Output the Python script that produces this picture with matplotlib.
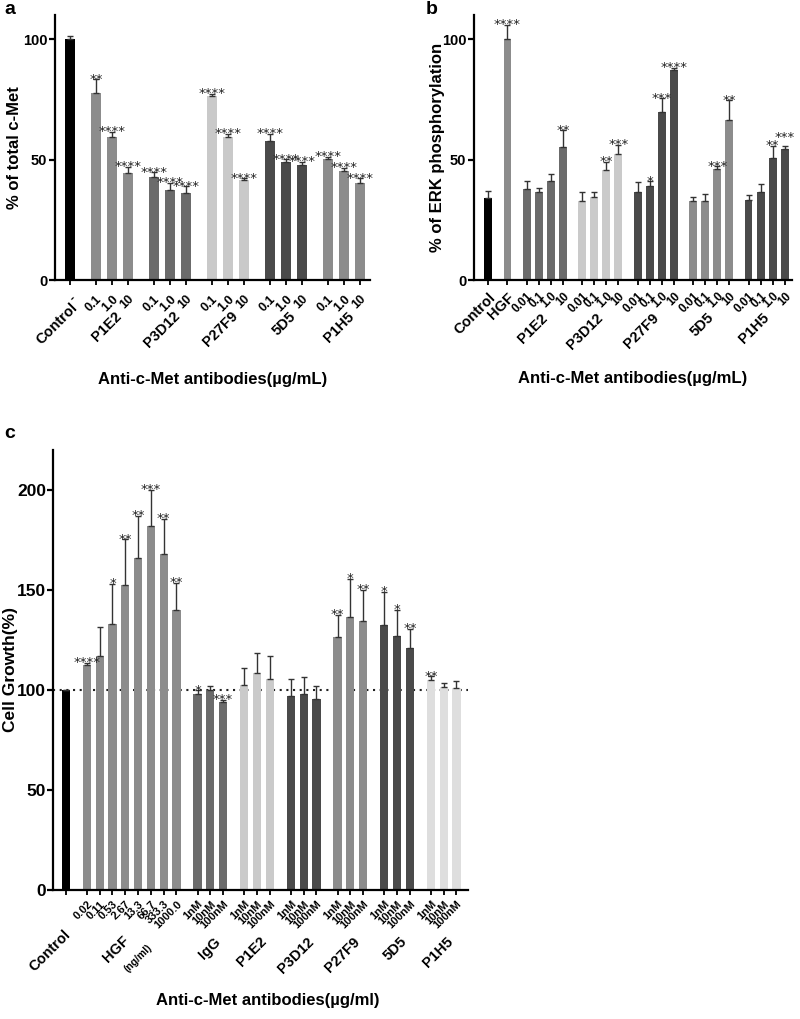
import numpy as np
import matplotlib.pyplot as plt

plt.rcParams['font.family'] = ['Liberation Sans', 'DejaVu Sans']
plt.rcParams['font.weight'] = 'bold'

# ---- panel a : total c-Met ----
a_sizes = [1, 3, 3, 3, 3, 3]
a_groups = ['Control', 'P1E2', 'P3D12', 'P27F9', '5D5', 'P1H5']
a_ticks = ['-'] + ['0.1', '1.0', '10'] * 5
a_vals = [100, 77.6, 59.5, 44.6, 42.7, 37.5, 36.3, 76.2, 59.2, 41.6,
          57.7, 49.1, 47.6, 50.2, 45.3, 40.1]
a_err = [1.2, 5.8, 2.0, 2.3, 2.1, 2.8, 2.6, 1.0, 1.4, 0.7,
         2.9, 1.0, 1.4, 1.0, 1.2, 2.2]
a_stars = ['', '**', '****', '****', '****', '****', '****', '****', '****', '****',
           '****', '****', '****', '****', '****', '****']
a_colors = ['#000000', '#8c8c8c', '#6b6b6b', '#c9c9c9', '#4a4a4a', '#8c8c8c']

# ---- panel b : ERK phosphorylation ----
b_sizes = [1, 1, 4, 4, 4, 4, 4]
b_groups = ['', '', 'P1E2', 'P3D12', 'P27F9', '5D5', 'P1H5']
b_ticks = ['Control', 'HGF'] + ['0.01', '0.1', '1.0', '10'] * 5
b_vals = [34.1, 100, 37.6, 36.4, 41.2, 55.4, 33.0, 34.6, 45.5, 52.5,
          36.7, 39.0, 69.9, 87.2, 32.7, 32.7, 46.2, 66.5, 33.4, 36.4, 50.7, 54.2]
b_err = [2.8, 6.0, 3.4, 1.8, 3.0, 6.8, 3.4, 2.0, 3.6, 3.7,
         3.8, 2.0, 5.5, 1.0, 1.9, 2.8, 1.0, 8.1, 1.8, 3.6, 5.0, 1.6]
b_stars = ['', '****', '', '', '', '**', '', '', '**', '***',
           '', '*', '***', '****', '', '', '***', '**', '', '', '**', '***']
b_colors = ['#000000', '#8c8c8c', '#6b6b6b', '#cacaca', '#4a4a4a', '#8c8c8c', '#4a4a4a']

# ---- panel c : cell growth ----
c_sizes = [1, 8, 3, 3, 3, 3, 3, 3]
c_groups = ['Control', 'HGF', 'IgG', 'P1E2', 'P3D12', 'P27F9', '5D5', 'P1H5']
c_ticks = ([''] + ['0.02', '0.11', '0.53', '2.67', '13.3', '66.7', '333.3', '1000.0']
           + ['1nM', '10nM', '100nM'] * 6)
c_vals = [100, 112.3, 116.8, 133.2, 152.5, 166.2, 182.0, 168.1, 139.9,
          97.9, 99.9, 94.1, 102.6, 108.4, 105.3, 96.9, 98.2, 95.6,
          126.3, 136.7, 134.7, 132.5, 126.8, 120.8, 105.1, 101.4, 101.1]
c_err = [0, 1.3, 14.9, 20.0, 22.9, 20.8, 18.0, 17.5, 13.6,
         2.0, 2.2, 1.1, 8.5, 9.9, 11.5, 8.5, 8.2, 6.3,
         11.2, 19.0, 15.3, 16.7, 13.4, 9.7, 1.8, 1.9, 3.3]
c_stars = ['', '****', '', '*', '**', '**', '***', '**', '**',
           '*', '', '***', '', '', '', '', '', '',
           '**', '*', '**', '*', '*', '**', '**', '', '']
c_colors = ['#000000', '#8c8c8c', '#6b6b6b', '#cacaca', '#4a4a4a', '#8c8c8c', '#4a4a4a', '#dedede']


def positions(sizes, gap):
    pos, start = [], 0.0
    for n in sizes:
        pos.append(start + np.arange(n))
        start = start + n - 1 + gap
    return pos


def draw(ax, sizes, gap, ticks, vals, errs, stars, colors, tick_fs, xpad, lift=None):
    grp = positions(sizes, gap)
    x = np.concatenate(grp)
    cols = np.repeat(colors, sizes)
    lift = lift or {}
    ax.bar(x, vals, width=0.64, color=cols, zorder=2)
    ax.errorbar(x, vals, yerr=[np.zeros(len(vals)), errs], fmt='none',
                ecolor='#333333', elinewidth=1, capsize=2.0, capthick=1, zorder=3)
    for i, (xi, v, e, s) in enumerate(zip(x, vals, errs, stars)):
        if s:
            ax.annotate(s, (xi, v + e), xytext=(0, -2.5 + lift.get(i, 0)),
                        textcoords='offset points', ha='center', va='baseline',
                        fontsize=9.5, family='DejaVu Sans',
                        fontweight='normal', color='#222222', zorder=4)
    ax.set_xticks(x)
    ax.set_xticklabels(ticks, rotation=45, ha='right', va='top',
                       rotation_mode='anchor', fontsize=tick_fs, fontweight='bold')
    for side in ['top', 'right']:
        ax.spines[side].set_visible(False)
    for side in ['left', 'bottom']:
        ax.spines[side].set_linewidth(1.6)
    ax.tick_params(axis='x', length=3.5, width=1.3, pad=xpad)
    ax.tick_params(axis='y', length=4, width=1.6, pad=1.5)
    for lbl in ax.get_yticklabels():
        lbl.set_fontweight('bold')
    return grp


def group_label(ax, xc, text, dy, fs=10.5, dx=0):
    ax.annotate(text, (xc, 0), xycoords=('data', 'axes fraction'),
                xytext=(dx, -dy), textcoords='offset points', rotation=45,
                ha='right', va='top', rotation_mode='anchor',
                fontsize=fs, fontweight='bold')


fig = plt.figure(figsize=(8, 10.19), dpi=100)

# panel a
ax1 = fig.add_axes([55 / 800, 1 - 280 / 1019, 315 / 800, 265 / 1019])
grp = draw(ax1, a_sizes, 1.6, a_ticks, a_vals, a_err, a_stars, a_colors, 9, 6)
ax1.set_ylim(0, 110)
ax1.set_xlim(grp[0][0] - 0.94, grp[-1][-1] + 0.63)
ax1.set_yticks([0, 50, 100])
ax1.tick_params(axis='y', labelsize=10.5)
for g, name in zip(grp, a_groups):
    if name == 'Control':
        group_label(ax1, g.mean(), name, 15)
    else:
        group_label(ax1, g.mean(), name, 21, dx=2)
ax1.text(0.5, -0.377, 'Anti-c-Met antibodies(\u00b5g/mL)', transform=ax1.transAxes,
         ha='center', va='center', fontsize=12, fontweight='bold')
ax1.text(-0.127, 0.5, '% of total c-Met', transform=ax1.transAxes, rotation=90,
         ha='center', va='center', fontsize=12, fontweight='bold')

# panel b
ax2 = fig.add_axes([474 / 800, 1 - 280 / 1019, 318 / 800, 265 / 1019])
grp = draw(ax2, b_sizes, 1.6, b_ticks, b_vals, b_err, b_stars, b_colors, 8.5, 4,
           lift={21: 6})
ax2.set_ylim(0, 110)
ax2.set_xlim(grp[0][0] - 1.17, grp[-1][-1] + 0.6)
ax2.set_yticks([0, 50, 100])
ax2.tick_params(axis='y', labelsize=10.5)
for lbl in ax2.get_xticklabels()[:2]:
    lbl.set_fontsize(10.5)
for g, name in zip(grp, b_groups):
    if name:
        group_label(ax2, g.mean(), name, 22, dx=-3)
ax2.text(0.5, -0.37, 'Anti-c-Met antibodies(\u00b5g/mL)', transform=ax2.transAxes,
         ha='center', va='center', fontsize=12, fontweight='bold')
ax2.text(-0.116, 0.5, '% of ERK phosphorylation', transform=ax2.transAxes, rotation=90,
         ha='center', va='center', fontsize=12, fontweight='bold')

# panel c
ax3 = fig.add_axes([53 / 800, 1 - 890 / 1019, 415 / 800, 440 / 1019])
grp = draw(ax3, c_sizes, 1.65, c_ticks, c_vals, c_err, c_stars, c_colors, 8, 3)
ax3.set_ylim(0, 220)
ax3.set_xlim(grp[0][0] - 1.0, grp[-1][-1] + 0.9)
ax3.set_yticks([0, 50, 100, 150, 200])
ax3.tick_params(axis='y', labelsize=12.5, pad=1)
ax3.axhline(100, color='#222222', lw=1.5, ls=(0, (1, 2.2)), zorder=1)
for g, name in zip(grp, c_groups):
    if name == 'Control':
        group_label(ax3, g.mean(), name, 27, dx=-2)
    elif name == 'HGF':
        group_label(ax3, g.mean(), name, 31, dx=-7)
        group_label(ax3, g.mean(), '(ng/ml)', 38, fs=7.5, dx=11)
    else:
        group_label(ax3, g.mean(), name, 32, dx=2)
ax3.text(0.518, -0.252, 'Anti-c-Met antibodies(\u00b5g/ml)', transform=ax3.transAxes,
         ha='center', va='center', fontsize=12, fontweight='bold')
ax3.text(-0.102, 0.5, 'Cell Growth(%)', transform=ax3.transAxes, rotation=90,
         ha='center', va='center', fontsize=12.5, fontweight='bold')

fig.text(10 / 800, 1 - 9 / 1019, 'a', ha='center', va='center', fontsize=14, fontweight='bold')
fig.text(432 / 800, 1 - 9 / 1019, 'b', ha='center', va='center', fontsize=14, fontweight='bold')
fig.text(10 / 800, 1 - 433 / 1019, 'c', ha='center', va='center', fontsize=14, fontweight='bold')

fig.savefig('out.png', dpi=100)
